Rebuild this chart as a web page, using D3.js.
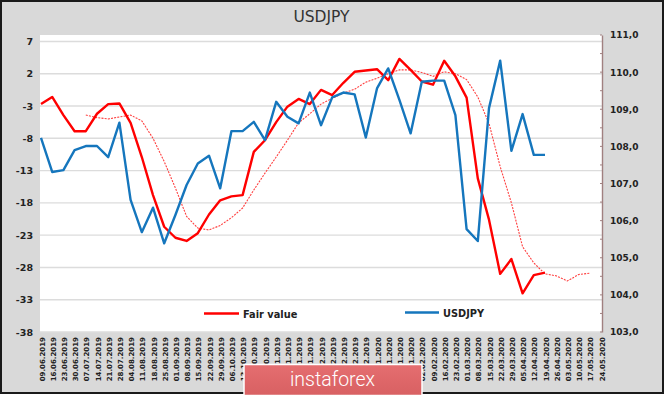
<!DOCTYPE html>
<html>
<head>
<meta charset="utf-8">
<script src="https://d3js.org/d3.v7.min.js"></script>
<style>
  html, body { margin: 0; padding: 0; background: #fff; }
  svg { display: block; }
  text { font-family: "DejaVu Sans", sans-serif; }
</style>
</head>
<body>
<svg id="chart"></svg>
<script>
const dates = ["09.06.2019","16.06.2019","23.06.2019","30.06.2019","07.07.2019","14.07.2019","21.07.2019","28.07.2019",
  "04.08.2019","11.08.2019","18.08.2019","25.08.2019","01.09.2019","08.09.2019","15.09.2019","22.09.2019","29.09.2019",
  "06.10.2019","13.10.2019","20.10.2019","27.10.2019","03.11.2019","10.11.2019","17.11.2019","24.11.2019","01.12.2019",
  "08.12.2019","15.12.2019","22.12.2019","29.12.2019","05.01.2020","12.01.2020","19.01.2020","26.01.2020","02.02.2020",
  "09.02.2020","16.02.2020","23.02.2020","01.03.2020","08.03.2020","15.03.2020","22.03.2020","29.03.2020","05.04.2020",
  "12.04.2020","19.04.2020","26.04.2020","03.05.2020","10.05.2020","17.05.2020","24.05.2020"];

// left axis
const fairValue = [-2.7,-1.6,-4.4,-6.9,-6.9,-4.2,-2.7,-2.6,-5.6,-10.9,-16.8,-21.7,-23.4,-23.9,-22.7,-19.8,-17.6,-17,-16.8,
  -10.1,-8.3,-5.5,-3.1,-1.9,-2.7,-0.5,-1.3,0.6,2.3,2.5,2.7,1.0,4.3,2.6,0.8,0.3,4.0,1.6,-1.7,-14.2,-20.6,-29,-26.7,-32,-29.2,-28.8];

// dotted average, starts at 07.07.2019
const fairAvgStart = 4;
const fairAvg = [-4.4,-4.8,-5.0,-4.7,-4.4,-5.3,-8.0,-11.6,-15.7,-20.1,-21.9,-22.2,-21.5,-20.3,-18.8,-16.0,-13.4,-10.9,-8.3,-5.6,
  -4.2,-2.7,-1.8,-1.0,-0.4,0.7,1.3,2.0,2.6,2.6,2.2,1.6,2.3,2.0,1.1,-1.6,-5.7,-12.4,-18,-24.8,-27.3,-29.0,-29.3,-30.1,-29.1,-28.9];

// right axis
const usdjpy = [108.23,107.31,107.36,107.90,108.01,108.01,107.71,108.64,106.56,105.69,106.35,105.39,106.15,106.96,107.54,107.75,
  106.87,108.41,108.41,108.66,108.17,109.20,108.80,108.62,109.45,108.57,109.32,109.45,109.40,108.24,109.56,110.10,109.25,108.35,
  109.74,109.77,109.77,108.84,105.77,105.45,109.03,110.31,107.88,108.87,107.77,107.77];

const leftTicks = [7,2,-3,-8,-13,-18,-23,-28,-33,-38];
const rightTicks = [103,104,105,106,107,108,109,110,111];
const rightMinor = [103.5,104.5,105.5,106.5,107.5,108.5,109.5,110.5];

const width = 665, height = 395;
const plot = { left: 40, right: 602, top: 35, bottom: 332 };

const svg = d3.select("#chart").attr("width", width).attr("height", height);

const grad = svg.append("defs").append("linearGradient")
  .attr("id", "wm").attr("x1", 0).attr("x2", 0).attr("y1", 0).attr("y2", 1);
grad.append("stop").attr("offset", "0%").attr("stop-color", "#e56e70");
grad.append("stop").attr("offset", "100%").attr("stop-color", "#d86062");

// background + frame
svg.append("rect").attr("x", 1).attr("y", 1).attr("width", 662).attr("height", 392)
  .attr("fill", "#d9d9d9").attr("stroke", "#1a1a1a").attr("stroke-width", 2);
svg.append("rect").attr("x", plot.left).attr("y", plot.top)
  .attr("width", plot.right - plot.left).attr("height", plot.bottom - plot.top).attr("fill", "#fff");

const x = d3.scalePoint().domain(dates).range([41, 601]);
const yLeft = d3.scaleLinear().domain([-38, 8]).range([plot.bottom, plot.top]);
const yRight = d3.scaleLinear().domain([103, 111]).range([plot.bottom, plot.top]);

// grid
svg.append("g").selectAll("line").data(leftTicks).join("line")
  .attr("x1", plot.left).attr("x2", plot.right)
  .attr("y1", d => yLeft(d)).attr("y2", d => yLeft(d))
  .attr("stroke", "#dcdcdc").attr("stroke-width", 1.4);

// left axis
const gLeft = svg.append("g").attr("transform", `translate(${plot.left},0)`)
  .call(d3.axisLeft(yLeft).tickValues(leftTicks).tickSize(0).tickPadding(7).tickFormat(d => String(d)));
gLeft.select(".domain").remove();
gLeft.selectAll("text").attr("font-size", 9.5).attr("font-weight", "bold").attr("fill", "#222");

// right axis
const gRight = svg.append("g").attr("transform", `translate(${plot.right},0)`)
  .call(d3.axisRight(yRight).tickValues(rightTicks).tickSize(0).tickPadding(8)
    .tickFormat(d => d3.format(".1f")(d).replace(".", ",")));
gRight.select(".domain").attr("stroke", "#a08080").attr("stroke-width", 1.4);
gRight.selectAll("text").attr("font-size", 9).attr("font-weight", "bold").attr("fill", "#222");
svg.append("g").selectAll("line").data(rightTicks.concat(rightMinor)).join("line")
  .attr("x1", plot.right - 2).attr("x2", plot.right)
  .attr("y1", d => yRight(d)).attr("y2", d => yRight(d))
  .attr("stroke", "#a08080").attr("stroke-width", 1);

// date axis
const gX = svg.append("g").attr("transform", `translate(0,${plot.bottom})`)
  .call(d3.axisBottom(x).tickSize(0));
gX.select(".domain").remove();
gX.selectAll("text")
  .attr("font-size", 7).attr("font-weight", "bold").attr("fill", "#222")
  .attr("text-anchor", "end").attr("dy", null).attr("y", 0)
  .attr("transform", "translate(3,5) rotate(-90)");

// lines
const lineLeft = d3.line().x((d, i) => x(dates[i])).y(d => yLeft(d));
const lineRight = d3.line().x((d, i) => x(dates[i])).y(d => yRight(d));
const lineAvg = d3.line().x((d, i) => x(dates[i + fairAvgStart])).y(d => yLeft(d));

svg.append("path").attr("d", lineAvg(fairAvg))
  .attr("fill", "none").attr("stroke", "#ff4040").attr("stroke-width", 1.1).attr("stroke-dasharray", "2,1.2");
svg.append("path").attr("d", lineLeft(fairValue))
  .attr("fill", "none").attr("stroke", "#ff0000").attr("stroke-width", 2.4).attr("stroke-linejoin", "round");
svg.append("path").attr("d", lineRight(usdjpy))
  .attr("fill", "none").attr("stroke", "#1576bd").attr("stroke-width", 2.4).attr("stroke-linejoin", "round");

// legend
const legend = [
  { name: "Fair value", color: "#ff0000", x1: 204, x2: 239, y: 313.5 },
  { name: "USDJPY", color: "#1576bd", x1: 405, x2: 439, y: 312.5 }
];
legend.forEach(l => {
  svg.append("line").attr("x1", l.x1).attr("x2", l.x2).attr("y1", l.y).attr("y2", l.y)
    .attr("stroke", l.color).attr("stroke-width", 2.4);
  svg.append("text").attr("x", l.x2 + 4).attr("y", l.y + 4).text(l.name)
    .attr("font-size", 9.8).attr("font-weight", "bold").attr("fill", "#222");
});

// title
svg.append("text").attr("x", 321.5).attr("y", 22).attr("text-anchor", "middle").text("USDJPY")
  .attr("font-size", 15.5).attr("fill", "#333");

// watermark
svg.append("rect").attr("x", 244).attr("y", 364.5).attr("width", 178).attr("height", 31)
  .attr("fill", "url(#wm)").attr("stroke", "#fff").attr("stroke-width", 1.5);
svg.append("text").attr("x", 332.5).attr("y", 386).attr("text-anchor", "middle").text("instaforex")
  .style("font-family", "Roboto, sans-serif").attr("font-weight", 300)
  .attr("font-size", 19.5).attr("fill", "#fff");
</script>
</body>
</html>
